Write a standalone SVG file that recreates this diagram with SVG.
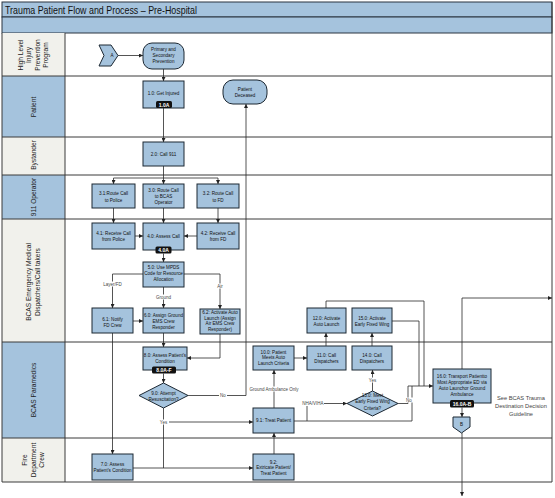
<svg xmlns="http://www.w3.org/2000/svg" width="555" height="498" viewBox="0 0 555 498">
<defs>
<marker id="arr" viewBox="0 0 6 6" refX="6" refY="3" markerWidth="4" markerHeight="4" orient="auto" markerUnits="userSpaceOnUse"><path d="M0,0 L6,3 L0,6 z" fill="#222"/></marker>
</defs>
<style>
.blue{fill:#a5c3dd}
.gray{fill:#f1f1ec}
.sep{stroke:#3a3a3a;stroke-width:1;fill:none}
.node{fill:#a5c3dd;stroke:#1c2833;stroke-width:1}
.t{font-family:"Liberation Sans",Arial,sans-serif;font-size:4.6px;fill:#111;text-anchor:middle}
.lane{font-family:"Liberation Sans",Arial,sans-serif;font-size:6.6px;fill:#222;text-anchor:middle}
.tagr{fill:#111}
.tagt{font-family:"Liberation Sans",Arial,sans-serif;font-size:5px;font-weight:bold;fill:#fff;text-anchor:middle}
.c{fill:none;stroke:#2a2a2a;stroke-width:0.8}
.a{marker-end:url(#arr)}
.lbl{font-family:"Liberation Sans",Arial,sans-serif;font-size:4.5px;fill:#444;text-anchor:middle}
.lb{fill:#fff}
.note{font-family:"Liberation Sans",Arial,sans-serif;font-size:5.7px;fill:#444;text-anchor:middle}
</style>

<g id="frame">
<rect x="0" y="0" width="555" height="498" fill="#fff"/>
<rect x="2" y="2" width="550" height="15" class="blue" stroke="#2a3440" stroke-width="1"/>
<rect x="2" y="17" width="550" height="16" class="blue" stroke="#2a3440" stroke-width="1"/>
<text x="5" y="13.5" font-family="'Liberation Sans',Arial,sans-serif" font-size="10.5" fill="#111" textLength="192" lengthAdjust="spacingAndGlyphs">Trauma Patient Flow and Process – Pre-Hospital</text>
<rect x="2" y="33" width="63" height="43" class="gray"/>
<rect x="2" y="76" width="63" height="61" class="blue"/>
<rect x="2" y="137" width="63" height="38" class="gray"/>
<rect x="2" y="175" width="63" height="44" class="blue"/>
<rect x="2" y="219" width="63" height="123" class="gray"/>
<rect x="2" y="342" width="63" height="96" class="blue"/>
<rect x="2" y="438" width="63" height="44" class="gray"/>
<path class="sep" d="M2,76H552M2,137H552M2,175H552M2,219H552M2,342H552M2,438H552M2,482H552M65,33V482M2,33V482M552,2V482"/>
<text class="lane" transform="translate(22.5,55) rotate(-90)">High Level</text>
<text class="lane" transform="translate(31,55) rotate(-90)">Injury</text>
<text class="lane" transform="translate(39.5,55) rotate(-90)">Prevention</text>
<text class="lane" transform="translate(48,55) rotate(-90)">Program</text>
<text class="lane" transform="translate(35.5,107) rotate(-90)">Patient</text>
<text class="lane" transform="translate(35.5,155) rotate(-90)">Bystander</text>
<text class="lane" transform="translate(35.5,197) rotate(-90)">911 Operator</text>
<text class="lane" transform="translate(30.5,282) rotate(-90)">BCAS Emergency Medical</text>
<text class="lane" transform="translate(39.5,282) rotate(-90)">Dispatchers/Call takers</text>
<text class="lane" transform="translate(35.5,390) rotate(-90)">BCAS Paramedics</text>
<text class="lane" transform="translate(27,460) rotate(-90)">Fire</text>
<text class="lane" transform="translate(35.5,460) rotate(-90)">Department</text>
<text class="lane" transform="translate(44,460) rotate(-90)">Crew</text>
</g>

<g id="connectors">
<path class="c a" d="M118,55.5H143"/>
<path class="c a" d="M163.5,69V81"/>
<path class="c a" d="M163.5,108V142"/>
<path class="c" d="M163.5,166V178M113.5,178H218"/>
<path class="c a" d="M113.5,178V184"/>
<path class="c a" d="M163.5,178V184"/>
<path class="c a" d="M218,178V184"/>
<path class="c a" d="M113.5,208V223"/>
<path class="c a" d="M163.5,208V223"/>
<path class="c a" d="M218,208V223"/>
<path class="c a" d="M135,236H143"/>
<path class="c a" d="M197,236H184"/>
<path class="c a" d="M163.5,253.5V262"/>
<path class="c a" d="M143,274H112.5V308"/>
<path class="c a" d="M163.5,287V308"/>
<path class="c a" d="M184,274H220V309"/>
<path class="c a" d="M133,321H143"/>
<path class="c a" d="M163.5,333V347"/>
<path class="c a" d="M220,334V358H187"/>
<path class="c a" d="M112.5,333V454"/>
<path class="c a" d="M163.5,373.5V383"/>
<path class="c a" d="M188,395.5H246V104"/>
<path class="c a" d="M163.5,422H253"/>
<path class="c" d="M163.5,408V468"/>
<path class="c a" d="M133,468H253"/>
<path class="c a" d="M274,454V433"/>
<path class="c a" d="M274,408V370"/>
<path class="c a" d="M294,358H307"/>
<path class="c a" d="M326,346V333"/>
<path class="c a" d="M372,346V333"/>
<path class="c a" d="M372.5,391V370"/>
<path class="c a" d="M294,421H307V403.5H347"/>
<path class="c" d="M307,421H412V386"/>
<path class="c" d="M398,403.5H408V386"/>
<path class="c" d="M326,308V301H424V386"/>
<path class="c" d="M392,321H419V386"/>
<path class="c a" d="M408,386H433"/>
<path class="c a" d="M462,407.5V417"/>
<path class="c a" d="M462,369V298H552"/>
<path class="c a" d="M462,433V496"/>
<g id="edge-labels">
<rect class="lb" x="103" y="281.5" width="19" height="5"/><text class="lbl" x="112.5" y="285.6">Layer/FD</text>
<rect class="lb" x="156" y="294.5" width="15" height="5"/><text class="lbl" x="163.5" y="298.6">Ground</text>
<rect class="lb" x="216" y="283.5" width="8" height="5"/><text class="lbl" x="220" y="287.6">Air</text>
<rect class="lb" x="219" y="393" width="8" height="5"/><text class="lbl" x="223" y="397.1">No</text>
<rect class="lb" x="158" y="419.5" width="11" height="5"/><text class="lbl" x="163.5" y="423.6">Yes</text>
<rect class="lb" x="249" y="386.5" width="50" height="5"/><text class="lbl" x="274" y="390.6">Ground Ambulance Only</text>
<rect class="lb" x="302" y="401" width="22" height="5"/><text class="lbl" x="313" y="405.1">NHA/VIHA</text>
<rect class="lb" x="367" y="377.5" width="11" height="5"/><text class="lbl" x="372.5" y="381.6">Yes</text>
<rect class="lb" x="405" y="397.5" width="8" height="5"/><text class="lbl" x="409" y="401.6">No</text>
</g>
</g>

<g id="nA"><path class="node" d="M99,45H111L118,55.5L111,66H99L104,55.5Z"/><text class="t" x="112" y="57.2">A</text></g>
<g id="nPrimary"><rect class="node" x="143" y="43" width="41" height="26" rx="9"/><text class="t" x="163.5" y="51">Primary and</text><text class="t" x="163.5" y="57">Secondary</text><text class="t" x="163.5" y="63">Prevention</text></g>
<g id="n1_0"><rect class="node" x="143" y="81" width="41" height="27"/><text class="t" x="163.5" y="94.6">1.0: Get Injured</text><rect class="tagr" x="156" y="101" width="16" height="7" rx="1.5"/><text class="tagt" x="164" y="106.5">1.0A</text></g>
<g id="nDeceased"><rect class="node" x="223" y="80" width="44" height="24" rx="10"/><text class="t" x="245" y="90.6">Patient</text><text class="t" x="245" y="96.6">Deceased</text></g>
<g id="n2_0"><rect class="node" x="143" y="142" width="41" height="24"/><text class="t" x="163.5" y="155.6">2.0: Call 911</text></g>
<g id="n3_1"><rect class="node" x="92" y="184" width="43" height="24"/><text class="t" x="113.5" y="194.6">3.1:Route Call</text><text class="t" x="113.5" y="201.6">to Police</text></g>
<g id="n3_0"><rect class="node" x="143" y="184" width="41" height="24"/><text class="t" x="163.5" y="191.6">3.0: Route Call</text><text class="t" x="163.5" y="197.6">to BCAS</text><text class="t" x="163.5" y="203.6">Operator</text></g>
<g id="n3_2"><rect class="node" x="197" y="184" width="42" height="24"/><text class="t" x="218" y="194.6">3.2: Route Call</text><text class="t" x="218" y="201.6">to FD</text></g>
<g id="n4_1"><rect class="node" x="92" y="223" width="43" height="26"/><text class="t" x="113.5" y="234.6">4.1: Receive Call</text><text class="t" x="113.5" y="240.6">from Police</text></g>
<g id="n4_0"><rect class="node" x="143" y="223" width="41" height="27"/><text class="t" x="163.5" y="237.6">4.0: Assess Call</text><rect class="tagr" x="155.5" y="246.5" width="16" height="7" rx="1.5"/><text class="tagt" x="163.5" y="252">4.0A</text></g>
<g id="n4_2"><rect class="node" x="197" y="223" width="42" height="26"/><text class="t" x="218" y="234.6">4.2: Receive Call</text><text class="t" x="218" y="240.6">from FD</text></g>
<g id="n5_0"><rect class="node" x="143" y="262" width="41" height="25"/><text class="t" x="163.5" y="268.6">5.0: Use MPDS</text><text class="t" x="163.5" y="274.6">Code for Resource</text><text class="t" x="163.5" y="280.6">Allocation</text></g>
<g id="n6_1"><rect class="node" x="92" y="308" width="41" height="25"/><text class="t" x="112.5" y="320.6">6.1: Notify</text><text class="t" x="112.5" y="326.6">FD Crew</text></g>
<g id="n6_0"><rect class="node" x="143" y="308" width="41" height="25"/><text class="t" x="163.5" y="316.6">6.0: Assign Ground</text><text class="t" x="163.5" y="322.6">EMS Crew</text><text class="t" x="163.5" y="328.6">Responder</text></g>
<g id="n6_2"><rect class="node" x="200" y="309" width="40" height="25"/><text class="t" x="220" y="313.8">6.2: Activate Auto</text><text class="t" x="220" y="319.6">Launch (Assign</text><text class="t" x="220" y="325.4">Air EMS Crew</text><text class="t" x="220" y="331.2">Responder)</text></g>
<g id="n8_0"><rect class="node" x="143" y="347" width="44" height="23"/><text class="t" x="165" y="356.6">8.0: Assess Patient’s</text><text class="t" x="165" y="362.6">Condition</text><rect class="tagr" x="152" y="366.5" width="24" height="7" rx="1.5"/><text class="tagt" x="164" y="372">8.0A-F</text></g>
<g id="n9_0"><path class="node" d="M163.5,383L188,395.5L163.5,408L139,395.5Z"/><text class="t" x="163.5" y="394.6">9.0: Attempt</text><text class="t" x="163.5" y="400.6">Resuscitation?</text></g>
<g id="n7_0"><rect class="node" x="92" y="454" width="41" height="26"/><text class="t" x="112.5" y="465.6">7.0: Assess</text><text class="t" x="112.5" y="471.6">Patient’s Condition</text></g>
<g id="n9_1"><rect class="node" x="253" y="408" width="41" height="25"/><text class="t" x="273.5" y="422.2">9.1: Treat Patient</text></g>
<g id="n9_2"><rect class="node" x="253" y="454" width="41" height="26"/><text class="t" x="273.5" y="463.6">9.2:</text><text class="t" x="273.5" y="469.1">Extricate Patient/</text><text class="t" x="273.5" y="474.6">Treat Patient</text></g>
<g id="n10_0"><rect class="node" x="253" y="346" width="41" height="24"/><text class="t" x="273.5" y="353.6">10.0: Patient</text><text class="t" x="273.5" y="359.4">Meets Auto</text><text class="t" x="273.5" y="365.2">Launch Criteria</text></g>
<g id="n11_0"><rect class="node" x="307" y="346" width="39" height="24"/><text class="t" x="326.5" y="356.6">11.0: Call</text><text class="t" x="326.5" y="363">Dispatchers</text></g>
<g id="n14_0"><rect class="node" x="352" y="346" width="40" height="24"/><text class="t" x="372" y="356.6">14.0: Call</text><text class="t" x="372" y="363">Dispatchers</text></g>
<g id="n12_0"><rect class="node" x="307" y="308" width="39" height="25"/><text class="t" x="326.5" y="319.6">12.0: Activate</text><text class="t" x="326.5" y="325.6">Auto Launch</text></g>
<g id="n15_0"><rect class="node" x="352" y="308" width="40" height="25"/><text class="t" x="372" y="319.6">15.0: Activate</text><text class="t" x="372" y="325.6">Early Fixed Wing</text></g>
<g id="n13_0"><path class="node" d="M372.5,391L398,403.5L372.5,416L347,403.5Z"/><text class="t" x="372.5" y="397">13.0: Meet</text><text class="t" x="372.5" y="403.4">Early Fixed Wing</text><text class="t" x="372.5" y="409.8">Criteria?</text></g>
<g id="n16_0"><rect class="node" x="433" y="369" width="58" height="34"/><text class="t" x="462" y="378.2">16.0: Transport Patientto</text><text class="t" x="462" y="384">Most Appropriate ED via</text><text class="t" x="462" y="389.8">Auto Launchor Ground</text><text class="t" x="462" y="395.6">Ambulance</text><rect class="tagr" x="450" y="400" width="24" height="7.5" rx="1.5"/><text class="tagt" x="462" y="405.7">16.0A-B</text></g>
<g id="nB"><path class="node" d="M453,417H470V427L461.5,433L453,427Z"/><text class="t" x="461.5" y="425.5">B</text></g>
<g id="note"><text class="note" x="521" y="400">See BCAS Trauma</text><text class="note" x="521" y="408">Destination Decision</text><text class="note" x="521" y="416">Guideline</text></g>
</svg>
